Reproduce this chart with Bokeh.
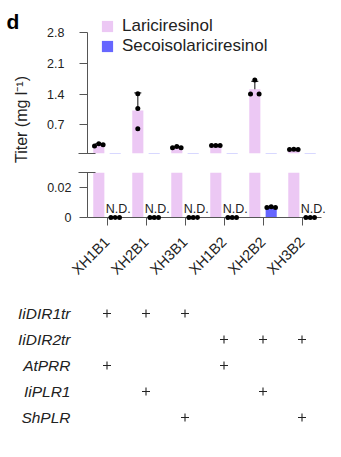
import math
from bokeh.plotting import figure
from bokeh.models import (ColumnDataSource, FactorRange, Range1d, FixedTicker, Legend,
                          LegendItem, Label, Whisker, TeeHead)
from bokeh.layouts import row, column
from bokeh.embed import file_html
from bokeh.resources import INLINE

# ---------------- data ----------------
strains = ["XH1B1", "XH2B1", "XH3B1", "XH1B2", "XH2B2", "XH3B2"]
series_names = ["Lariciresinol", "Secoisolariciresinol"]

lar_mean = [0.25, 1.03, 0.19, 0.23, 1.51, 0.14]
lar_sd = [0.025, 0.40, 0.017, 0.004, 0.18, 0.004]
lar_reps = [[0.22, 0.27, 0.25], [1.41, 1.07, 0.61], [0.18, 0.21, 0.18],
            [0.23, 0.23, 0.23], [1.72, 1.40, 1.40], [0.14, 0.145, 0.14]]

seco_mean = [0.0, 0.0, 0.0, 0.0, 0.0068, 0.0]
seco_sd = [0.0, 0.0, 0.0, 0.0, 0.0003, 0.0]
seco_reps = [[0, 0, 0], [0, 0, 0], [0, 0, 0], [0, 0, 0],
             [0.0066, 0.0071, 0.0067], [0, 0, 0]]

top_ticks = [0.7, 1.4, 2.1, 2.8]
top_tick_labels = ["0.7", "1.4", "2.1", "2.8"]
bottom_ticks = [0, 0.02]
bottom_tick_labels = ["0", "0.02"]
top_limits = (0.05, 2.8)
bottom_limits = (0.0, 0.03)

genes = ["IiDIR1tr", "IiDIR2tr", "AtPRR", "IiPLR1", "ShPLR"]
IiDIR1tr = [1, 1, 1, 0, 0, 0]
IiDIR2tr = [0, 0, 0, 1, 1, 1]
AtPRR = [1, 0, 0, 1, 0, 0]
IiPLR1 = [0, 1, 0, 0, 1, 0]
ShPLR = [0, 0, 1, 0, 0, 1]
constructs = [IiDIR1tr, IiDIR2tr, AtPRR, IiPLR1, ShPLR]

ylabel = "Titer (mg l\u207b\u00b9)"
panel_letter = "d"
nd_text = "N.D."

# ---------------- style ----------------
FONT = "Liberation Sans"
TXT = "#222222"
AX = "#555555"
PINK = "#ECC8F4"
BLUE = "#6666FF"
DODGE = 0.21
BAR_W = 0.285
PX_PER_UNIT_TOP = 44.0
DOT = 5


def jitter(vals, tol, spread=0.11):
    n = len(vals)
    offs = [0.0] * n
    order = sorted(range(n), key=lambda i: vals[i])
    clusters = []
    for i in order:
        if clusters and abs(vals[i] - vals[clusters[-1][-1]]) < tol:
            clusters[-1].append(i)
        else:
            clusters.append([i])
    for c in clusters:
        c = sorted(c)
        m = len(c)
        for k, i in enumerate(c):
            offs[i] = 0.0 if m == 1 else -spread + 2 * spread * k / (m - 1)
    return offs


def points(reps, shift, tol):
    xs, ys = [], []
    for s, vals in zip(strains, reps):
        for o, v in zip(jitter(vals, tol), vals):
            xs.append((s, shift + o))
            ys.append(v)
    return ColumnDataSource(dict(x=xs, y=ys))


bars_lar = ColumnDataSource(dict(
    x=[(s, -DODGE) for s in strains], top=lar_mean,
    lower=[m - d for m, d in zip(lar_mean, lar_sd)],
    upper=[m + d for m, d in zip(lar_mean, lar_sd)]))
bars_seco = ColumnDataSource(dict(
    x=[(s, DODGE) for s in strains], top=seco_mean,
    lower=[m - d for m, d in zip(seco_mean, seco_sd)],
    upper=[m + d for m, d in zip(seco_mean, seco_sd)]))
seco_pos = [i for i, m in enumerate(seco_mean) if m > 0]
whisk_seco = ColumnDataSource(dict(
    x=[(strains[i], DODGE) for i in seco_pos],
    lower=[seco_mean[i] - seco_sd[i] for i in seco_pos],
    upper=[seco_mean[i] + seco_sd[i] for i in seco_pos]))
nd_idx = [i for i, m in enumerate(seco_mean) if m == 0]
nd_src = ColumnDataSource(dict(x=[(strains[i], DODGE) for i in nd_idx],
                               y=[0.0] * len(nd_idx),
                               t=[nd_text] * len(nd_idx)))

xr = FactorRange(*strains)


def style_yaxis(ax, standoff):
    ax.axis_line_color = AX
    ax.major_tick_line_color = AX
    ax.minor_tick_line_color = AX
    ax.major_tick_out = 8
    ax.major_tick_in = 0
    ax.minor_tick_out = 9
    ax.minor_tick_in = 8
    ax.major_label_standoff = standoff
    ax.major_label_text_font = FONT
    ax.major_label_text_font_size = "12.5px"
    ax.major_label_text_color = TXT


def whisker(src):
    return Whisker(base="x", lower="lower", upper="upper", source=src,
                   dimension="height", line_color="#333333", line_width=1.2,
                   upper_head=TeeHead(size=7, line_color="#333333", line_width=1.2),
                   lower_head=TeeHead(size=7, line_color="#333333", line_width=1.2))


# ---------------- top panel ----------------
top_h, top_bt, top_bb = 163, 8, 10
frame_h_top = top_h - top_bt - top_bb
top = figure(width=306, height=top_h, x_range=xr,
             y_range=Range1d(top_limits[0], top_limits[0] + frame_h_top / PX_PER_UNIT_TOP),
             x_axis_location=None, min_border_left=52, min_border_right=20,
             min_border_top=top_bt, min_border_bottom=top_bb,
             output_backend="svg", toolbar_location=None)
top.outline_line_color = None
top.grid.grid_line_color = None
r_lar = top.vbar(x="x", top="top", width=BAR_W, bottom=0, source=bars_lar,
                 fill_color=PINK, line_color=None)
r_seco = top.vbar(x="x", top="top", width=BAR_W, bottom=0, source=bars_seco,
                  fill_color=BLUE, line_color=None)
top.add_layout(whisker(bars_lar))
top.scatter(x="x", y="y", source=points(lar_reps, -DODGE, 0.1), size=DOT,
            fill_color="black", line_color=None)
ya = top.yaxis[0]
ya.ticker = FixedTicker(ticks=top_ticks, minor_ticks=[top_limits[0]])
ya.bounds = top_limits
ya.major_label_overrides = dict(zip(top_ticks, top_tick_labels))
style_yaxis(ya, 14)

leg = Legend(items=[LegendItem(label=series_names[0], renderers=[r_lar]),
                    LegendItem(label=series_names[1], renderers=[r_seco])],
             location=(13, 97), orientation="vertical",
             glyph_width=14, glyph_height=14, label_standoff=8, label_height=14,
             spacing=-1, padding=0, margin=0,
             label_text_font=FONT, label_text_font_size="17px",
             label_text_color=TXT, border_line_color=None,
             background_fill_alpha=0)
top.add_layout(leg)

# ---------------- bottom panel ----------------
bot = figure(width=306, height=129, x_range=xr, y_range=Range1d(*bottom_limits),
             min_border_left=52, min_border_right=20, min_border_top=9,
             min_border_bottom=75, output_backend="svg", toolbar_location=None)
bot.outline_line_color = None
bot.grid.grid_line_color = None
bot.vbar(x="x", top="top", width=BAR_W, bottom=0, source=bars_lar,
         fill_color=PINK, line_color=None)
bot.vbar(x="x", top="top", width=BAR_W, bottom=0, source=bars_seco,
         fill_color=BLUE, line_color=None)
bot.add_layout(whisker(whisk_seco))
bot.text(x="x", y="y", text="t", source=nd_src, x_offset=3, y_offset=-2,
         text_align="center", text_baseline="bottom",
         text_font={"value": FONT}, text_font_size="12.5px", text_color=TXT,
         level="overlay")
bot.scatter(x="x", y="y", source=points(seco_reps, DODGE, 0.003), size=DOT,
            fill_color="black", line_color=None, level="overlay")
yb = bot.yaxis[0]
yb.ticker = FixedTicker(ticks=bottom_ticks, minor_ticks=[bottom_limits[1]])
yb.bounds = bottom_limits
yb.major_label_overrides = dict(zip(bottom_ticks, bottom_tick_labels))
style_yaxis(yb, 7)
xb = bot.xaxis[0]
xb.axis_line_color = AX
xb.major_tick_line_color = AX
xb.major_tick_out = 8
xb.major_tick_in = 0
xb.major_label_orientation = math.pi / 4
xb.major_label_standoff = 14
xb.major_label_text_font = FONT
xb.major_label_text_font_size = "14.5px"
xb.major_label_text_color = TXT

# ---------------- y label & panel letter ----------------
lab = figure(width=35, height=292, x_range=Range1d(0, 1), y_range=Range1d(0, 1),
             x_axis_location=None, y_axis_location=None, min_border=0,
             output_backend="svg", toolbar_location=None)
lab.outline_line_color = None
lab.grid.grid_line_color = None
lab.add_layout(Label(x=21, y=292 - 119, x_units="screen", y_units="screen",
                     text=ylabel, angle=math.pi / 2, text_align="center",
                     text_baseline="middle", text_font=FONT, text_font_size="16px",
                     text_color=TXT))
lab.add_layout(Label(x=6, y=292 - 21, x_units="screen", y_units="screen",
                     text=panel_letter, text_align="left", text_baseline="alphabetic",
                     text_font=FONT, text_font_size="21px", text_font_style="bold",
                     text_color="black"))

# ---------------- construct table ----------------
tab = figure(width=341, height=165, x_range=xr, y_range=FactorRange(*reversed(genes)),
             x_axis_location=None, min_border_left=87, min_border_right=20,
             min_border_top=8, min_border_bottom=27,
             output_backend="svg", toolbar_location=None)
tab.outline_line_color = None
tab.grid.grid_line_color = None
px, py = [], []
for g, flags in zip(genes, constructs):
    for s, f in zip(strains, flags):
        if f:
            px.append(s)
            py.append(g)
tab.scatter(x=px, y=py, marker="cross", size=8, line_width=1.1, line_color=TXT)
yt = tab.yaxis[0]
yt.axis_line_color = None
yt.major_tick_line_color = None
yt.minor_tick_line_color = None
yt.major_label_standoff = 11
yt.major_label_text_font = FONT
yt.major_label_text_font_size = "15.5px"
yt.major_label_text_font_style = "italic"
yt.major_label_text_color = TXT

layout = column(row(lab, column(top, bot)), tab)
open("out.html", "w").write(file_html(layout, INLINE))
